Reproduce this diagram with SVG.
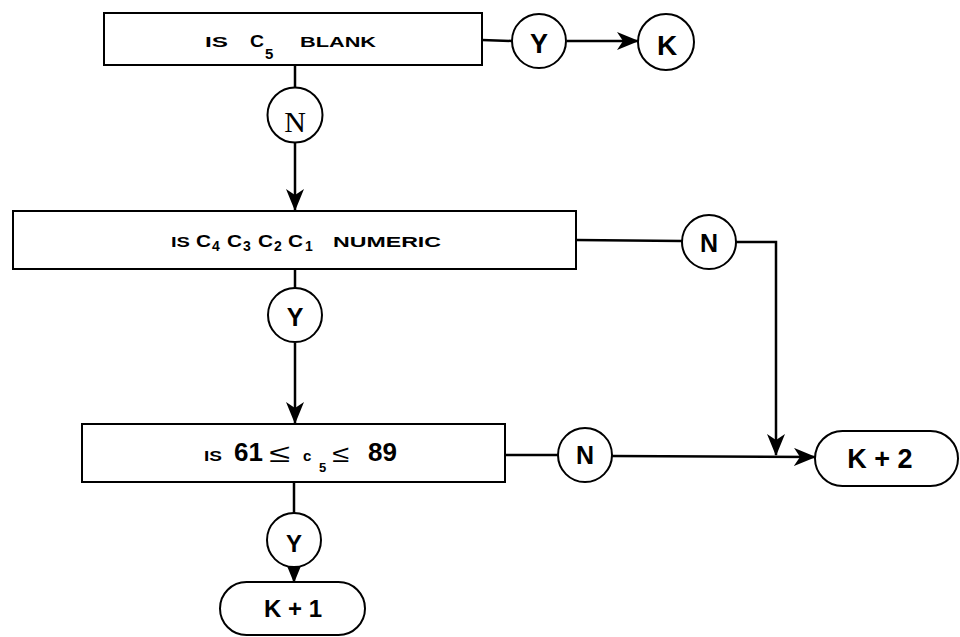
<svg xmlns="http://www.w3.org/2000/svg" width="960" height="637" viewBox="0 0 960 637">
<defs>
<style>
.box{fill:#fff;stroke:#000;stroke-width:2}
.circ{fill:#fff;stroke:#000;stroke-width:2}
.term{fill:#fff;stroke:#000;stroke-width:2}
.conn{fill:none;stroke:#000;stroke-width:2.5}
.t{font-family:"Liberation Sans",Arial,sans-serif;font-weight:bold;fill:#000}
.lbl{text-anchor:middle}
.lblserif{font-family:"Liberation Serif","Times New Roman",serif;text-anchor:middle;fill:#000}
</style>
<marker id="ah" markerUnits="userSpaceOnUse" markerWidth="22" markerHeight="18" viewBox="0 0 22 18" refX="21" refY="9" orient="auto">
<path d="M0,0 L22,9 L0,18 L6,9 z" fill="#000"/>
</marker>
</defs>
<rect width="960" height="637" fill="#fff"/>

<g id="connectors">
<line class="conn" x1="482" y1="40" x2="512" y2="41"/>
<line class="conn" x1="567" y1="41" x2="638" y2="41" marker-end="url(#ah)"/>
<line class="conn" x1="295" y1="65" x2="295" y2="88"/>
<line class="conn" x1="295" y1="143" x2="295" y2="210" marker-end="url(#ah)"/>
<line class="conn" x1="295" y1="269" x2="295" y2="288"/>
<line class="conn" x1="295" y1="343" x2="295" y2="423" marker-end="url(#ah)"/>
<line class="conn" x1="576" y1="240" x2="682" y2="241"/>
<polyline class="conn" points="736,242 776,242 776,455" marker-end="url(#ah)"/>
<line class="conn" x1="505" y1="455" x2="558" y2="455"/>
<line class="conn" x1="612" y1="456" x2="815" y2="457" marker-end="url(#ah)"/>
<line class="conn" x1="294" y1="482" x2="294" y2="513"/>
<line class="conn" x1="294" y1="567" x2="294" y2="582" marker-end="url(#ah)"/>
</g>

<g id="box1">
<rect class="box" x="104" y="13" width="378" height="52"/>
<text class="t" font-size="15" x="205" y="47" textLength="23" lengthAdjust="spacingAndGlyphs">IS</text>
<text class="t" font-size="16" x="250" y="47" textLength="14" lengthAdjust="spacingAndGlyphs">C</text>
<text class="t" font-size="15" x="265" y="59">5</text>
<text class="t" font-size="15" x="300" y="47" textLength="76" lengthAdjust="spacingAndGlyphs">BLANK</text>
</g>

<g id="y1">
<circle class="circ" cx="539" cy="41" r="27"/>
<text class="t lbl" font-size="27" x="539" y="53">Y</text>
</g>

<g id="k">
<circle class="circ" cx="666" cy="42" r="28"/>
<text class="t lbl" font-size="28" x="667" y="55">K</text>
</g>

<g id="n1">
<circle class="circ" cx="295" cy="115" r="27.5"/>
<text class="lblserif" font-size="30" x="295" y="132">N</text>
</g>

<g id="box2">
<rect class="box" x="13" y="211" width="563" height="58"/>
<text class="t" font-size="15" x="171" y="247" textLength="19" lengthAdjust="spacingAndGlyphs">IS</text>
<text class="t" font-size="16" x="196" y="247" textLength="15" lengthAdjust="spacingAndGlyphs">C</text>
<text class="t" font-size="14" x="212" y="251">4</text>
<text class="t" font-size="16" x="227" y="247" textLength="15" lengthAdjust="spacingAndGlyphs">C</text>
<text class="t" font-size="14" x="243" y="251">3</text>
<text class="t" font-size="16" x="258" y="247" textLength="15" lengthAdjust="spacingAndGlyphs">C</text>
<text class="t" font-size="14" x="274" y="251">2</text>
<text class="t" font-size="16" x="288" y="247" textLength="15" lengthAdjust="spacingAndGlyphs">C</text>
<text class="t" font-size="14" x="305" y="251">1</text>
<text class="t" font-size="15" x="333" y="247" textLength="108" lengthAdjust="spacingAndGlyphs">NUMERIC</text>
</g>

<g id="y2">
<circle class="circ" cx="295" cy="315" r="27"/>
<text class="t lbl" font-size="25" x="295" y="326">Y</text>
</g>

<g id="n2">
<circle class="circ" cx="709" cy="242" r="27"/>
<text class="t lbl" font-size="25" x="709" y="252">N</text>
</g>

<g id="box3">
<rect class="box" x="82" y="424" width="423" height="58"/>
<text class="t" font-size="14" x="204" y="461" textLength="18" lengthAdjust="spacingAndGlyphs">IS</text>
<text class="t" font-size="26" x="234" y="461">61</text>
<text class="t" font-size="26" x="269" y="462" textLength="21" lengthAdjust="spacingAndGlyphs" style="font-weight:normal">≤</text>
<text class="t" font-size="15" x="303" y="461">c</text>
<text class="t" font-size="13" x="319" y="472">5</text>
<text class="t" font-size="24" x="332" y="462" textLength="17" lengthAdjust="spacingAndGlyphs" style="font-weight:normal">≤</text>
<text class="t" font-size="26" x="368" y="461">89</text>
</g>

<g id="n3">
<circle class="circ" cx="585" cy="455" r="27"/>
<text class="t lbl" font-size="25" x="585" y="464">N</text>
</g>

<g id="y3">
<circle class="circ" cx="294" cy="540" r="27"/>
<text class="t lbl" font-size="24" x="294" y="552">Y</text>
</g>

<g id="k1">
<rect class="term" x="220" y="582" width="145" height="53" rx="26.5"/>
<text class="t lbl" font-size="24" x="293" y="617">K + 1</text>
</g>

<g id="k2">
<rect class="term" x="815" y="431" width="143" height="55" rx="27.5"/>
<text class="t lbl" font-size="27" x="880" y="468">K + 2</text>
</g>
</svg>
